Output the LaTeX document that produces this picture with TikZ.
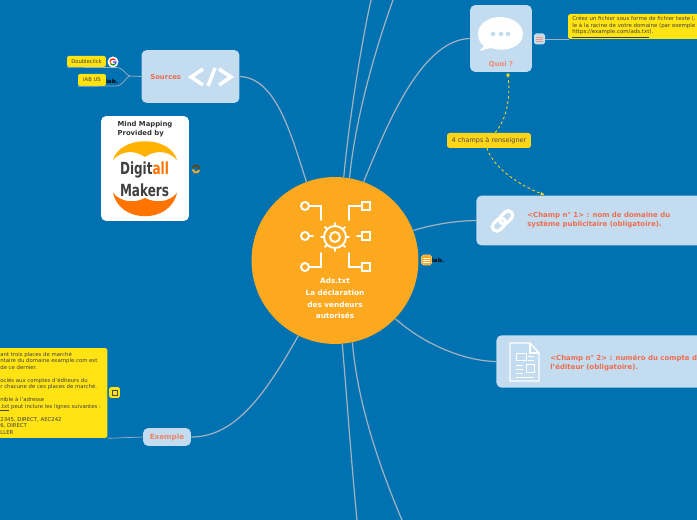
\documentclass[tikz,border=0pt]{standalone}
\usepackage{fontspec}
\setmainfont{DejaVu Sans}
\usepackage{xcolor}
\usetikzlibrary{arrows.meta}
\definecolor{mapblue}{HTML}{0071B1}
\definecolor{panel}{HTML}{C3DCF0}
\definecolor{wire}{HTML}{A0B2BF}
\definecolor{orangec}{HTML}{FCA920}
\definecolor{salmon}{HTML}{EE6C4D}
\definecolor{notey}{HTML}{FFE312}
\definecolor{linky}{HTML}{FFD518}
\tikzset{
  panelbox/.style={
    fill=panel,
    rounded corners=3pt,
    inner sep=0pt
  },
  paneltext/.style={
    text=salmon,
    font=\bfseries\fontsize{3.96}{5.1}\selectfont,
    align=left,
    anchor=west,
    inner sep=0pt
  },
  notebox/.style={
    fill=notey,
    rounded corners=1pt,
    inner sep=0pt
  },
  notetext/.style={
    text=black!75,
    font=\fontsize{3.05}{3.69}\selectfont,
    align=left,
    anchor=west,
    inner sep=0pt
  },
  tagbox/.style={
    fill=notey,
    rounded corners=1.2pt,
    text=black!75,
    font=\fontsize{3}{4}\selectfont,
    inner sep=0pt
  },
  wirel/.style={
    draw=wire,
    line width=0.7pt
  },
  linkl/.style={
    draw=linky,
    line width=0.5pt,
    dash pattern=on 1.5pt off 1.5pt
  },
  iconl/.style={
    draw=white,
    line width=1.1pt,
    line cap=round
  },
  iabmark/.style={
    text=black,
    font=\bfseries\fontsize{3.2}{4}\selectfont,
    inner sep=0pt
  }
}
\begin{document}
\begin{tikzpicture}[x=0.02cm, y=-0.02cm]
  \useasboundingbox (0,0) rectangle (697,520);
  \clip (0,0) rectangle (697,520);
  \fill[mapblue] (0,0) rectangle (697,520);

  % main boxes
  \node[circle, fill=orangec, minimum size=3.34cm, inner sep=0pt] (Center) at (335,260.5) {};
  \node[panelbox, minimum width=1.96cm, minimum height=1.06cm] (Sources) at (190.5,76.5) {};
  \node[panelbox, minimum width=1.24cm, minimum height=1.34cm] (Quoi) at (501,38.5) {};
  \node[panelbox, anchor=west, minimum width=5cm, minimum height=1cm] (Champ1) at (476,220.5) {};
  \node[panelbox, anchor=west, minimum width=5cm, minimum height=1.05cm] (Champ2) at (496,361.5) {};
  \node[panelbox, minimum width=0.96cm, minimum height=0.36cm] (Exemple) at (167,437) {};

  % wires
  \coordinate (TopA) at (371,0);
  \coordinate (TopB) at (393,0);
  \coordinate (BotA) at (357,520);
  \coordinate (BotB) at (402,520);
  \draw[wirel] (Center.84) .. controls (349,120) and (362,40) .. (TopA);
  \draw[wirel] (Center.80) .. controls (355,120) and (375,50) .. (TopB);
  \draw[wirel] (Center.70) .. controls (385,130) and (420,40) .. (Quoi.west);
  \draw[wirel] (Center.21) .. controls (435,224) and (455,221) .. (Champ1.west);
  \draw[wirel] (Center.-44) .. controls (425,345) and (465,361) .. (Champ2.west);
  \draw[wirel] (Center.-85) .. controls (347,400) and (352,470) .. (BotA);
  \draw[wirel] (Center.-78) .. controls (358,410) and (385,480) .. (BotB);
  \draw[wirel] (Center.-116) .. controls (265,395) and (235,437) .. (Exemple.east);
  \draw[wirel] (Center.110) .. controls (290,130) and (275,78) .. (Sources.east);

  % left tags of sources
  \node[tagbox, minimum width=0.78cm, minimum height=0.22cm] (Dbl) at (86.5,61.5) {Doubleclick};
  \node[tagbox, minimum width=0.56cm, minimum height=0.24cm] (Iab) at (92,80) {IAB US};
  \coordinate (TagJoin) at (130,76);
  \draw[wirel, line width=0.4pt] (Sources.west) -- (TagJoin) .. controls (126,76) and (124,67.5) .. (116,67.5) -- (Dbl.south west);
  \draw[wirel, line width=0.4pt] (TagJoin) .. controls (126,76) and (124,86) .. (116,86) -- (Iab.south west);
  \node[circle, fill=white, minimum size=0.22cm, inner sep=0pt] (Gg) at (113,62) {};
  \draw[line width=0.7pt, red!80!orange] (Gg.center) ++(-40:3) arc (-40:-170:3);
  \draw[line width=0.7pt, orange] (Gg.center) ++(-170:3) arc (-170:-220:3);
  \draw[line width=0.7pt, green!60!black] (Gg.center) ++(-220:3) arc (-220:-320:3);
  \draw[line width=0.7pt, blue!70!white] (Gg.center) ++(-320:3) arc (-320:-360:3) -- +(-3,0);
  \node[iabmark] (IabA) at (112,81) {iab.};

  % sources
  \node[paneltext, font=\bfseries\fontsize{3.9}{5}\selectfont] (SourcesT) at (150,77) {Sources};
  \draw[white, line width=2pt] (203,69) -- (191,77) -- (203,85);
  \draw[white, line width=2pt] (208,86) -- (215,68);
  \draw[white, line width=2pt] (219,69) -- (231,77) -- (219,85);

  % logo card
  \node[fill=white, rounded corners=3pt, minimum width=1.76cm, minimum height=2.1cm, inner sep=0pt] (Card) at (145,168.5) {};
  \node[text=black!80, font=\bfseries\fontsize{3.9}{5.1}\selectfont, align=left, inner sep=0pt] (CardT) at (145,129.5) {Mind Mapping\\Provided by};
  \fill[orange!60!yellow] (113,160) .. controls (120,135) and (170,135) .. (177,160) .. controls (168,150) and (155,150) .. (145,157) .. controls (135,150) and (122,150) .. cycle;
  \fill[orange!90!red] (113,193) .. controls (120,224) and (170,224) .. (177,193) .. controls (168,203) and (155,203) .. (145,198) .. controls (135,203) and (122,203) .. cycle;
  \node[text=black!75, font=\bfseries\fontsize{9.5}{8}\selectfont, inner sep=0pt] (LogoA) at (144.5,170) {\scalebox{0.72}[1]{Digit\textcolor{orange!90!red}{all}}};
  \node[text=black!75, font=\bfseries\fontsize{9.5}{8}\selectfont, inner sep=0pt] (LogoB) at (144.5,190) {\scalebox{0.72}[1]{Makers}};
  \draw[orangec, line width=1.1pt] (196,169) ++(20:3.5) arc (20:170:3.5);
  \draw[black!60!orangec, line width=1.1pt] (196,169) ++(200:3.5) arc (200:350:3.5);

  % central icons
  \foreach \y in {206,236,267} {
    \draw[iconl] (305,\y) circle (4);
    \draw[iconl] (362,\y-4) rectangle (370,\y+4);
  }
  \draw[iconl] (309,206) -- (321,206) -- (321,220);
  \draw[iconl] (309,236) -- (313,236);
  \draw[iconl] (309,267) -- (321,267) -- (321,253);
  \draw[iconl] (362,206) -- (349,206) -- (349,220);
  \draw[iconl] (357,236) -- (362,236);
  \draw[iconl] (362,267) -- (349,267) -- (349,253);
  \draw[iconl] (335,237) circle (5);
  \draw[iconl] (335,237) circle (11);
  \foreach \a in {0,45,...,315} {
    \draw[iconl] (335,237) ++(\a:11) -- ++(\a:3);
  }
  \node[text=white, font=\bfseries\fontsize{4.15}{6.6}\selectfont, align=center, inner sep=0pt] (CenterT) at (335,298.5) {Ads.txt\\La déclaration\\des vendeurs\\autorisés};

  % note next to central topic
  \node[fill=orangec, draw=orangec!70!white, rounded corners=1pt, minimum width=0.2cm, minimum height=0.2cm, inner sep=0pt] (CenterN) at (426.5,260) {};
  \draw[white, line width=0.4pt] (423,258) -- (430,258) (423,260) -- (430,260) (423,262) -- (430,262);
  \node[iabmark] (CenterI) at (438,260.5) {iab.};

  % Quoi
  \fill[white] (500,17) .. controls (487,17) and (478,25) .. (478,34) .. controls (478,40) and (481,44) .. (484,46) -- (479,51) -- (491,48) .. controls (505,53) and (523,47) .. (523,34) .. controls (523,25) and (513,17) .. (500,17) -- cycle;
  \foreach \x in {493,501,508} {
    \fill[panel] (\x,34) circle (2.3);
  }
  \node[text=salmon!80!white, font=\bfseries\fontsize{3.9}{5}\selectfont, inner sep=0pt] (QuoiT) at (501,64) {Quoi ?};
  \node[panelbox, rounded corners=1pt, minimum width=0.22cm, minimum height=0.22cm] (QuoiN) at (539.5,39) {};
  \draw[salmon!70!white, line width=0.5pt] (536,37) -- (543,37) (536,39) -- (543,39) (536,41) -- (543,41);
  \node[notebox, minimum width=3cm, minimum height=0.5cm] (QuoiNote) at (643,26.5) {};
  \coordinate (QuoiEnd) at (569,39);
  \draw[wirel, line width=0.4pt] (QuoiN.east) -- (QuoiEnd);
  \node[notetext, font=\fontsize{3.1}{3.69}\selectfont] (QuoiNoteT) at (572,27.5) {Créez un fichier sous forme de fichier texte (.\\le à la racine de votre domaine (par exemple\\\underline{https://example.com/ads.txt}).};

  % link
  \node[fill=linky, rounded corners=1.5pt, text=black!70, font=\fontsize{3.7}{5}\selectfont, minimum width=1.68cm, minimum height=0.3cm, inner sep=0pt] (Lbl) at (489,140.5) {4 champs à renseigner};
  \coordinate (LnkA) at (508,75);
  \coordinate (LnkB) at (545,195);
  \coordinate (LblTop) at (495,133);
  \coordinate (LblBot) at (487,148);
  \fill[linky] (LnkA) circle (1.8);
  \draw[linkl] (LnkA) .. controls (511,100) and (506,120) .. (LblTop);
  \draw[linkl, -{Latex[length=2.5pt]}] (LblBot) .. controls (492,166) and (518,185) .. (LnkB);

  % champ 1
  \draw[white, line width=1.8pt, rounded corners=2.5pt, rotate around={45:(502.5,221)}] (490,216.5) rectangle (505,225.5);
  \draw[white, line width=1.8pt, rounded corners=2.5pt, rotate around={45:(502.5,221)}] (500,216.5) rectangle (515,225.5);
  \node[paneltext] (Champ1T) at (527,220.5) {<Champ n° 1> : nom de domaine du\\système publicitaire (obligatoire).};

  % champ 2
  \draw[white, line width=0.8pt, line join=round] (510,343) -- (530,343) -- (539,353) -- (539,381) -- (510,381) -- cycle;
  \draw[white, line width=0.6pt] (530,343) -- (530,353) -- (539,353);
  \foreach \xa/\xb/\y in {528/534/356, 528/534/360, 516/523/365, 516/523/369, 516/523/373, 516/534/377} {
    \draw[white, line width=0.4pt] (\xa,\y) -- (\xb,\y);
  }
  \draw[white, line width=0.5pt] (516,353) rectangle (526,360);
  \draw[white, line width=0.5pt] (526,364) rectangle (534,372);
  \node[paneltext] (Champ2T) at (550,362.5) {<Champ n° 2> : numéro du compte d\\l'éditeur (obligatoire).};

  % exemple
  \node[text=salmon!85!white, font=\bfseries\fontsize{4.1}{5}\selectfont, inner sep=0pt] (ExempleT) at (167,437.5) {Exemple};
  \node[notebox, minimum width=2.5cm, minimum height=1.8cm] (ExNote) at (45,393) {};
  \draw[wirel, line width=0.4pt] (Exemple.west) -- (ExNote.south east);
  \node[notetext] (ExNoteT) at (0,393) {ant trois places de marché\\ntaire du domaine example.com est\\de ce dernier.\\~\\ociés aux comptes d'éditeurs du\\r chacune de ces places de marché.\\~\\nible à l'adresse\\\underline{.txt} peut inclure les lignes suivantes :\\~\\2345, DIRECT, AEC242\\6, DIRECT\\LLER};
  \node[fill=notey, rounded corners=1pt, minimum width=0.22cm, minimum height=0.22cm, inner sep=0pt] (ExIcon) at (114.5,392.5) {};
  \draw[black!70, line width=0.4pt] (112,390) rectangle (117,395);
\end{tikzpicture}
\end{document}
